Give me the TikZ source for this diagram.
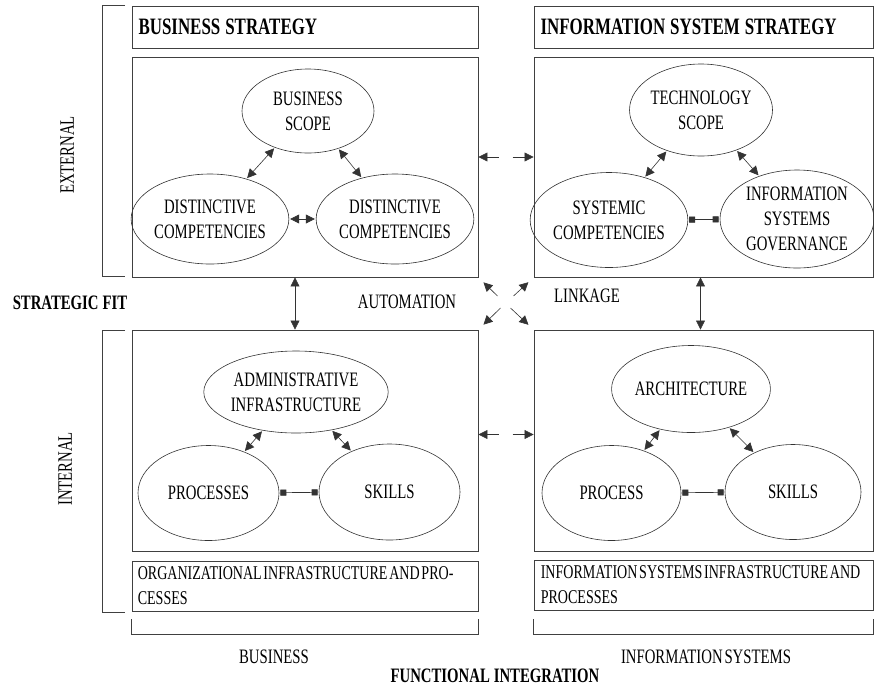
\documentclass[tikz,border=0pt]{standalone}
\usepackage{fontspec}
\setmainfont{Liberation Serif}[FakeStretch=0.72, WordSpace=0.5]
\usetikzlibrary{shapes.geometric, arrows.meta, calc}

\tikzset{
  panel/.style={draw=black!75, line width=0.9pt, rectangle, inner sep=0pt},
  bubble/.style={draw=black!80, line width=0.6pt, ellipse, inner sep=0pt, align=center, font=\fontsize{20.5}{25}\selectfont},
  tipboth/.style={black!80, line width=0.6pt, {Triangle[length=9pt,width=9pt]}-{Triangle[length=9pt,width=9pt]}, shorten <=1pt, shorten >=1pt},
  sqboth/.style={black!80, line width=0.6pt, {Square[length=6pt,width=6pt]}-{Square[length=6pt,width=6pt]}, shorten <=1pt, shorten >=1pt},
  tipone/.style={black!80, line width=0.6pt, -{Triangle[length=9pt,width=9pt]}},
  brace/.style={draw=black!75, line width=0.9pt},
  orgtext/.style={anchor=west, align=left, inner sep=0pt, font=\fontsize{19.5}{25}\selectfont},
  headtext/.style={anchor=west, font=\fontsize{23.5}{26}\selectfont\bfseries},
  boldlabel/.style={font=\fontsize{20.5}{24}\selectfont\bfseries},
}

\begin{document}
\begin{tikzpicture}[x=1pt, y=-1pt, font=\fontsize{20.5}{25}\selectfont]
    \useasboundingbox (0,0) rectangle (874,686);

    \node[panel, minimum width=346, minimum height=42] (bshead) at (305,27) {};
    \node[headtext] (bstitle) at (135,27) {\spaceskip=5pt\relax BUSINESS STRATEGY};
    \node[panel, minimum width=339, minimum height=42] (ishead) at (703.5,27) {};
    \node[headtext] (istitle) at (537,27) {\spaceskip=5pt\relax INFORMATION SYSTEM STRATEGY};

    \node[panel, minimum width=346, minimum height=220] (bsmain) at (305,167) {};
    \node[panel, minimum width=339, minimum height=220] (ismain) at (703.5,167) {};
    \node[panel, minimum width=346, minimum height=221] (bimain) at (305,440.5) {};
    \node[panel, minimum width=339, minimum height=221] (iimain) at (703.5,440.5) {};

    \node[panel, minimum width=346, minimum height=50] (biorg) at (305,586) {};
    \node[orgtext] (biorgtxt) at ([xshift=6pt]biorg.west) {ORGANIZATIONAL INFRASTRUCTURE AND PRO-\\CESSES};
    \node[panel, minimum width=339, minimum height=50] (iiorg) at (703.5,585) {};
    \node[orgtext] (iiorgtxt) at ([xshift=7pt]iiorg.west) {INFORMATION SYSTEMS INFRASTRUCTURE AND\\PROCESSES};

    \node[bubble, minimum width=132, minimum height=84] (bscope) at (308,111) {BUSINESS\\SCOPE};
    \node[bubble, minimum width=148, minimum height=90] (dcleft) at (210,219) {DISTINCTIVE\\COMPETENCIES};
    \node[bubble, minimum width=150, minimum height=90] (dcright) at (395,219) {DISTINCTIVE\\COMPETENCIES};

    \node[bubble, minimum width=143, minimum height=92] (tscope) at (701,110) {TECHNOLOGY\\SCOPE};
    \node[bubble, minimum width=137, minimum height=95] (syscomp) at (609,220) {SYSTEMIC\\COMPETENCIES};
    \node[bubble, minimum width=154, minimum height=98] (isgov) at (797,219) {INFORMATION\\SYSTEMS\\GOVERNANCE};

    \node[bubble, minimum width=166, minimum height=82] (adminf) at (296,392) {ADMINISTRATIVE\\INFRASTRUCTURE};
    \node[bubble, minimum width=141, minimum height=95] (procs) at (208.5,493) {PROCESSES};
    \node[bubble, minimum width=141, minimum height=96] (skillsb) at (389.5,492) {SKILLS};

    \node[bubble, minimum width=150, minimum height=87] (archi) at (691,389) {ARCHITECTURE};
    \node[bubble, minimum width=139, minimum height=95] (proc) at (611.5,493) {PROCESS};
    \node[bubble, minimum width=136, minimum height=95] (skillsi) at (793,492) {SKILLS};

    \draw[tipboth] (bscope) -- (dcleft);
    \draw[tipboth] (bscope) -- (dcright);
    \draw[tipboth] (dcleft) -- (dcright);
    \draw[tipboth] (tscope) -- (syscomp);
    \draw[tipboth] (tscope) -- (isgov);
    \draw[sqboth] (syscomp) -- (isgov);
    \draw[tipboth] (adminf) -- (procs);
    \draw[tipboth] (adminf) -- (skillsb);
    \draw[sqboth] (procs) -- (skillsb);
    \draw[tipboth] (archi) -- (proc);
    \draw[tipboth] (archi) -- (skillsi);
    \draw[sqboth] (proc) -- (skillsi);

    \draw[tipboth, shorten <=0pt, shorten >=0pt] ([xshift=-10pt]bsmain.south) -- ([xshift=-10pt]bimain.north);
    \draw[tipboth, shorten <=0pt, shorten >=0pt] ([xshift=-3pt]ismain.south) -- ([xshift=-3pt]iimain.north);

    \coordinate (gaptop) at (505.5,157);
    \coordinate (gapbot) at (505.5,434.5);
    \draw[tipone] ([xshift=-7pt]gaptop) -- (bsmain.east |- gaptop);
    \draw[tipone] ([xshift=7pt]gaptop) -- (ismain.west |- gaptop);
    \draw[tipone] ([xshift=-7pt]gapbot) -- (bimain.east |- gapbot);
    \draw[tipone] ([xshift=7pt]gapbot) -- (iimain.west |- gapbot);

    \coordinate (cross) at (505.5,302);
    \draw[tipone, shorten >=7pt] ([shift={(-8,-6)}]cross) -- (bsmain.south east);
    \draw[tipone, shorten >=7pt] ([shift={(8,-6)}]cross) -- (ismain.south west);
    \draw[tipone, shorten >=7pt] ([shift={(-5,6)}]cross) -- (bimain.north east);
    \draw[tipone, shorten >=7pt] ([shift={(5,6)}]cross) -- (iimain.north west);

    \node (auto) at (407,302) {AUTOMATION};
    \node (link) at (587,296) {LINKAGE};
    \node[boldlabel] (fit) at (70,303) {\spaceskip=4pt\relax STRATEGIC FIT};

    \draw[brace] (125,5) -- (102,5) -- (102,276) -- (125,276);
    \draw[brace] (125,330) -- (102,330) -- (102,612) -- (125,612);
    \node[rotate=90] (ext) at (67,155) {EXTERNAL};
    \node[rotate=90] (int) at (65,469) {INTERNAL};

    \draw[brace] (bimain.west |- 0,619) -- (bimain.west |- 0,634) -- (bimain.east |- 0,634) -- (bimain.east |- 0,619);
    \draw[brace] (iimain.west |- 0,619) -- (iimain.west |- 0,634) -- (iimain.east |- 0,634) -- (iimain.east |- 0,619);
    \node (bus) at (274,657) {BUSINESS};
    \node (infs) at (706,657) {INFORMATION SYSTEMS};
    \node[boldlabel] (funi) at (495,676) {\spaceskip=4pt\relax FUNCTIONAL INTEGRATION};
\end{tikzpicture}
\end{document}
